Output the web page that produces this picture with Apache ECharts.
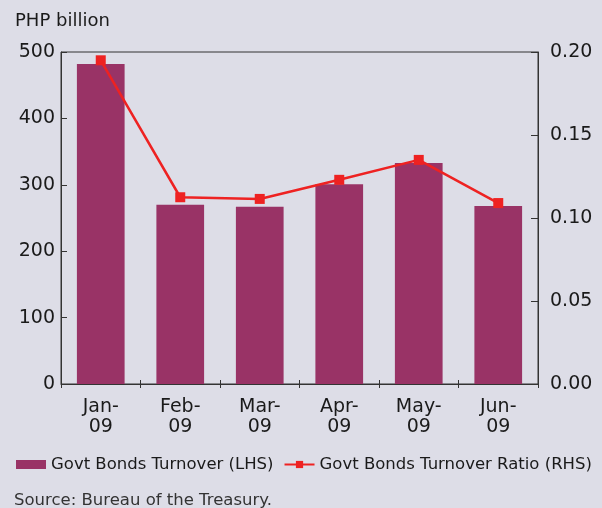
<!DOCTYPE html>
<html>
<head>
<meta charset="utf-8">
<script src="https://cdn.jsdelivr.net/npm/echarts@6/dist/echarts.min.js"></script>
<style>
html,body{margin:0;padding:0;background:#dddde7;}
#c{width:602px;height:508px;}
</style>
</head>
<body>
<div id="c"></div>
<script>
const categories = ["Jan-\n09", "Feb-\n09", "Mar-\n09", "Apr-\n09", "May-\n09", "Jun-\n09"];
const turnover = [482, 270, 267, 301, 333, 268];
const turnoverRatio = [0.195, 0.1125, 0.1115, 0.123, 0.135, 0.109];
const leftTicks = [0, 100, 200, 300, 400, 500];
const rightTicks = [0, 0.05, 0.10, 0.15, 0.20];

const FONT = "DejaVu Sans";
const chart = echarts.init(document.getElementById('c'), null, {renderer: 'canvas'});
chart.setOption({
  backgroundColor: '#dddde7',
  animation: false,
  textStyle: {fontFamily: FONT},
  title: [
    {text: 'PHP billion', left: 10, top: 7, textStyle: {fontFamily: FONT, fontSize: 18, fontWeight: 'normal', color: '#1a1a1a'}},
    {text: 'Source: Bureau of the Treasury.', left: 9, top: 487, textStyle: {fontFamily: FONT, fontSize: 16.5, fontWeight: 'normal', color: '#333'}}
  ],
  legend: {
    left: 11, top: 451,
    itemGap: 10,
    itemWidth: 30, itemHeight: 9,
    textStyle: {fontFamily: FONT, fontSize: 16.5, color: '#1a1a1a'},
    data: [
      {name: 'Govt Bonds Turnover (LHS)', icon: 'rect'},
      {name: 'Govt Bonds Turnover Ratio (RHS)'}
    ]
  },
  grid: {left: 61, right: 64, top: 52, bottom: 124, show: true, borderColor: '#333', borderWidth: 1, backgroundColor: 'transparent'},
  xAxis: [
    {
      type: 'category', data: categories, position: 'bottom',
      axisLine: {lineStyle: {color: '#333', width: 1}},
      axisTick: {show: true, alignWithLabel: false, inside: false, length: 4, lineStyle: {color: '#333'}},
      axisLabel: {fontFamily: FONT, fontSize: 19, color: '#1a1a1a', lineHeight: 20, margin: 13}
    },
    {
      type: 'category', data: categories, position: 'bottom',
      axisLine: {show: false},
      axisTick: {show: true, inside: true, length: 4, lineStyle: {color: '#333'}},
      axisLabel: {show: false}
    }
  ],
  yAxis: [
    {
      type: 'value', min: 0, max: 500, interval: 100, position: 'left',
      axisLine: {show: true, lineStyle: {color: '#333'}},
      axisTick: {show: true, inside: true, length: 6, lineStyle: {color: '#333'}},
      splitLine: {show: false},
      axisLabel: {fontFamily: FONT, fontSize: 19, color: '#1a1a1a', margin: 6,
        customValues: leftTicks}
    },
    {
      type: 'value', min: 0, max: 0.2, interval: 0.05, position: 'right',
      axisLine: {show: true, lineStyle: {color: '#333'}},
      axisTick: {show: true, inside: true, length: 7, lineStyle: {color: '#333'}},
      splitLine: {show: false},
      axisLabel: {fontFamily: FONT, fontSize: 19, color: '#1a1a1a', margin: 12,
        customValues: rightTicks,
        formatter: v => v.toFixed(2)}
    }
  ],
  series: [
    {
      name: 'Govt Bonds Turnover (LHS)', type: 'bar', data: turnover,
      xAxisIndex: 0, yAxisIndex: 0,
      barCategoryGap: '40%',
      itemStyle: {color: '#993366'}
    },
    {
      name: 'Govt Bonds Turnover Ratio (RHS)', type: 'line', data: turnoverRatio,
      xAxisIndex: 0, yAxisIndex: 1,
      symbol: 'rect', symbolSize: 10,
      lineStyle: {color: '#ee2222', width: 2.5},
      itemStyle: {color: '#ee2222'}
    }
  ]
});
</script>
</body>
</html>
